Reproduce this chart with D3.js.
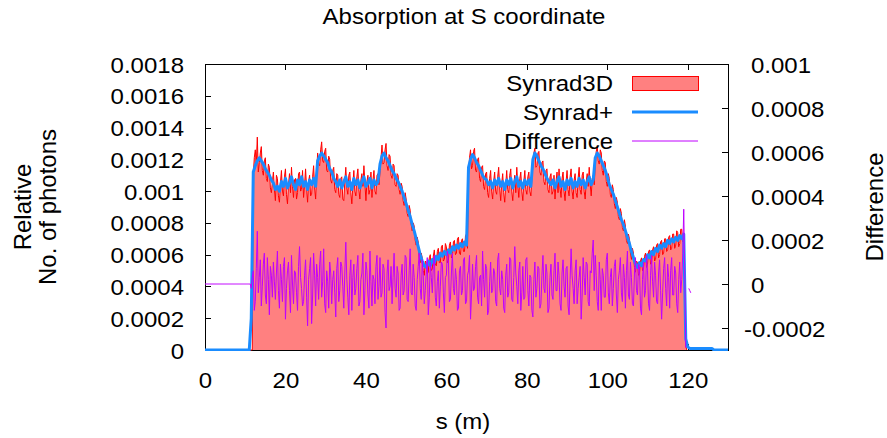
<!DOCTYPE html>
<html><head><meta charset="utf-8">
<script src="https://cdn.jsdelivr.net/npm/d3@7"></script>
<style>
body{margin:0;background:#fff}
text{font-family:"Liberation Sans",Arial,Helvetica,sans-serif;fill:#000}
</style>
</head><body>
<svg id="chart" width="887" height="438"></svg>
<script>
// sampling steps (metres); each array starts at s = 0
const redStep = 0.25;   // Synrad3D
const blueStep = 0.5;   // Synrad+
const diffStep = 0.25;  // Difference
const sMax = 130;

// Synrad3D (relative no. of photons), left axis
const synrad3d = [
0,0,0,0,0,0,0,0,0,0, 0,0,0,0,0,0,0,0,0,0, 0,0,0,0,0,0,0,0,0,0, 0,0,0,0,0,0,0,0,0,0, 0,0,0,0,0,0,
0,0,0.0011,0.00121,0.00126,0.00117,0.00134,0.00112,0.00118,0.00124,0.00128,0.00113,0.0011,0.00119,0.00121,0.00108,0.00106,0.00117,0.00115,0.00102,
0.00099,0.00106,0.00112,0.00101,0.00094,0.0011,0.00108,0.00097,0.00093,0.00105,0.00113,0.001,0.00097,0.00109,0.00114,0.00098,0.00092,0.00104,0.00111,0.00099,
0.00115,0.00103,0.00096,0.00107,0.00108,0.00095,0.00099,0.00111,0.00112,0.001,0.00101,0.00113,0.00096,0.00104,0.00114,0.00102,0.00093,0.00106,0.0011,0.00097,
0.00098,0.00109,0.00116,0.00102,0.00095,0.00112,0.00124,0.00117,0.00116,0.00126,0.00131,0.00119,0.00118,0.00125,0.00127,0.00113,0.00112,0.00122,0.0012,0.00107,
0.00105,0.00113,0.00115,0.00101,0.00099,0.00111,0.0011,0.00098,0.00096,0.00108,0.00109,0.00095,0.00094,0.00106,0.00115,0.00102,0.00098,0.0011,0.00112,0.00099,
0.00092,0.00104,0.00113,0.001,0.00097,0.00109,0.00114,0.00101,0.00095,0.00107,0.00111,0.00103,0.00116,0.00105,0.00094,0.00106,0.0011,0.00098,0.00101,0.00112,
0.00096,0.00107,0.00113,0.001,0.00098,0.0011,0.00111,0.00104,0.00112,0.00121,0.00129,0.00117,0.00118,0.00126,0.0013,0.00116,0.00113,0.00123,0.00122,0.0011,
0.00108,0.00117,0.00116,0.00104,0.00103,0.00111,0.0011,0.00101,0.00098,0.00105,0.00103,0.00094,0.00091,0.00099,0.00095,0.00086,0.00084,0.00091,0.00088,0.00079,
0.00075,0.0008,0.00078,0.00069,0.00066,0.00071,0.00068,0.00058,0.00055,0.00061,0.00058,0.0005,0.00047,0.00056,0.00055,0.00048,0.00049,0.00058,0.0006,0.0005,
0.00051,0.00059,0.00063,0.00054,0.00053,0.00062,0.00064,0.00055,0.00055,0.00065,0.00066,0.00056,0.00057,0.00067,0.00065,0.00055,0.00056,0.00066,0.00068,0.00058,
0.00059,0.00068,0.00069,0.0006,0.00061,0.0007,0.00071,0.00061,0.0006,0.00069,0.0007,0.00062,0.00062,0.00072,0.00073,0.00064,0.0011,0.00121,0.00126,0.00114,
0.00116,0.00125,0.00127,0.00113,0.00112,0.0012,0.00121,0.00108,0.00106,0.00115,0.00116,0.00103,0.00101,0.00111,0.00112,0.00099,0.00096,0.00108,0.00113,0.001,
0.00095,0.00106,0.00112,0.001,0.00098,0.00109,0.00115,0.00102,0.00094,0.00105,0.00111,0.00099,0.00093,0.00104,0.00113,0.00101,0.00099,0.0011,0.00114,0.001,
0.00094,0.00105,0.0011,0.00099,0.00115,0.00104,0.00096,0.00108,0.00112,0.001,0.00094,0.00106,0.00113,0.00101,0.00098,0.00109,0.00112,0.001,0.00097,0.00108,
0.00116,0.00124,0.00127,0.00115,0.00116,0.00124,0.00125,0.00112,0.0011,0.00118,0.00119,0.00106,0.00104,0.00113,0.00114,0.00101,0.00099,0.00109,0.00111,0.00098,
0.001,0.0011,0.00095,0.00106,0.00112,0.00099,0.00114,0.00102,0.00096,0.00108,0.00112,0.001,0.00094,0.00106,0.00113,0.00101,0.00097,0.00109,0.00114,0.001,
0.00095,0.00107,0.00111,0.00099,0.00096,0.00108,0.00115,0.00101,0.00098,0.0011,0.00112,0.001,0.00095,0.00106,0.00111,0.00103,0.00115,0.00104,0.00097,0.00108,
0.0011,0.00104,0.00116,0.00125,0.00128,0.00119,0.00117,0.00126,0.00124,0.00113,0.0011,0.00119,0.00118,0.00106,0.00103,0.00111,0.00108,0.00098,0.00096,0.00104,
0.00101,0.00092,0.00089,0.00096,0.00093,0.00084,0.00082,0.00089,0.00086,0.00077,0.00075,0.00082,0.00078,0.00069,0.00067,0.00073,0.0007,0.00061,0.00057,0.00064,
0.00061,0.00052,0.00049,0.00056,0.00055,0.00047,0.00048,0.00056,0.00058,0.0005,0.00051,0.00059,0.00061,0.00052,0.00054,0.00062,0.00063,0.00054,0.00055,0.00063,
0.00065,0.00056,0.00057,0.00066,0.00067,0.00058,0.0006,0.00068,0.00069,0.0006,0.00061,0.0007,0.0007,0.00062,0.00063,0.00071,0.00072,0.00063,0.00064,0.00073,
0.00073,0.00064,0.00066,0.00075,0.00074,0.00065,0.00067,0.00076,0.00076,0.00068,0.0007,0.0004,0.00003,0
];

// Synrad+ (relative no. of photons), left axis
const synradPlus = [
0,0,0,0,0,0,0,0,0,0, 0,0,0,0,0,0,0,0,0,0, 0,0,0,
0.0002,0.00112,0.00116,0.00119,0.00121,0.00119,0.00117,0.00114,0.00112,0.0011,
0.00107,0.00105,0.00101,0.00103,0.001,0.00106,0.00103,0.00108,0.00102,0.00105,
0.00109,0.00104,0.00101,0.00107,0.00104,0.00109,0.00103,0.00106,0.00101,0.00107,
0.00104,0.00108,0.00103,0.00119,0.00122,0.00124,0.00122,0.0012,0.00118,0.00114,
0.00112,0.00108,0.00106,0.00103,0.00107,0.00102,0.00106,0.00109,0.00103,0.00106,
0.00101,0.00108,0.00104,0.00107,0.00102,0.00106,0.00109,0.00103,0.00105,0.00108,
0.00102,0.00107,0.00104,0.00106,0.00117,0.00122,0.00124,0.00121,0.00119,0.00116,
0.00113,0.00111,0.00108,0.00106,0.00103,0.001,0.00096,0.00092,0.00088,0.00084,
0.00079,0.00075,0.0007,0.00065,0.0006,0.00056,0.00053,0.00052,0.00056,0.00053,
0.00057,0.00055,0.00059,0.00057,0.00061,0.00059,0.00062,0.0006,0.00063,0.00061,
0.00065,0.00063,0.00066,0.00064,0.00067,0.00065,0.00068,0.00066,0.00115,0.0012,
0.00123,0.00121,0.00118,0.00116,0.00113,0.0011,0.00108,0.00107,0.00104,0.00106,
0.00102,0.00107,0.00104,0.00108,0.00103,0.00106,0.00101,0.00107,0.00104,0.00108,
0.00102,0.00106,0.00109,0.00103,0.00106,0.00102,0.00107,0.00104,0.00107,0.00103,
0.0012,0.00124,0.00122,0.00119,0.00116,0.00114,0.00111,0.00108,0.00106,0.00104,
0.00107,0.00102,0.00106,0.00109,0.00103,0.00106,0.00101,0.00107,0.00104,0.00108,
0.00102,0.00106,0.00103,0.00108,0.00104,0.00107,0.00102,0.00106,0.00109,0.00104,
0.00107,0.00121,0.00124,0.00122,0.00119,0.00116,0.00113,0.00109,0.00104,0.00101,
0.00098,0.00094,0.0009,0.00086,0.00082,0.00079,0.00075,0.00071,0.00067,0.00062,
0.00058,0.00054,0.00052,0.00055,0.00053,0.00057,0.00056,0.0006,0.00058,0.00062,
0.0006,0.00064,0.00062,0.00066,0.00064,0.00067,0.00065,0.00069,0.00067,0.0007,
0.00068,0.00071,0.00069,0.00072,0.0007,0.00073,0.00007,0.00002,0.00001,0.00001,
0.00001,0.00001,0.00001,0.00001,0.00001,0.00001,0.00001,0.00001,0.00001,0.00001,
0,0,0,0,0,0,0,0
];

// Difference, right axis (null = no data)
const difference = [
0,0,0,0,0,0,0,0,0,0, 0,0,0,0,0,0,0,0,0,0, 0,0,0,0,0,0,0,0,0,0, 0,0,0,0,0,0,0,0,0,0, 0,0,0,0,0,0,
-0.00002,0.00003,0.00006,-0.00012,-0.00008,0.00007,0.00024,-0.00004,0.00003,0.00011,-0.0001,-0.00001,0.00009,0.00014,-0.00005,-0.00009,0.00012,0.00002,-0.00014,0.00008,
0.00004,-0.00006,0.0001,0.00001,-0.00007,0.00005,0.00015,-0.00003,-0.00011,0.00009,0.00002,-0.00008,0.00008,0.00012,-0.00016,-0.00002,0.00006,0.0001,-0.00003,-0.00013,
0.00013,0,-0.00009,0.00006,0.00005,-0.00004,-0.00012,0.00008,0.00017,0.00003,-0.00002,-0.0001,-0.00008,0.00004,0.00011,-0.00006,-0.00019,0.00002,0.00007,0.00012,
-0.00018,-0.00005,0.00014,0.00004,-0.0001,0.00009,0.00003,-0.00007,0.00009,0.00015,-0.00006,0.00001,0.00016,-0.00009,-0.00013,0.00006,0.00001,-0.00011,0.0001,0.00005,
-0.00009,0.00002,0.00006,-0.00004,-0.00015,0.00007,0.00012,-0.00008,-0.00003,0.0001,0.00008,-0.00001,-0.00011,0.00005,0.00019,0.00002,-0.00006,-0.00014,0.00004,0.00011,
-0.00012,0.00003,0.00009,-0.00005,-0.00002,0.00007,0.00013,-0.0001,-0.00008,0.00002,0.00005,0.00014,-0.00014,-0.00003,0.0001,0.00006,-0.00005,-0.00011,0.00015,0.00001,
-0.0001,0.00004,0.00002,-0.00009,0.00008,0.00013,-0.00007,-0.00001,0.00012,-0.00006,-0.00004,0.00009,0.00007,-0.00013,-0.0002,0.00005,0.00011,-0.00003,-0.00001,0.00008,
-0.00009,0.00003,0.00014,-0.00002,-0.00006,0.00008,0.00005,-0.00012,-0.00011,0.00004,0.00009,-0.00005,-0.00003,0.00013,0.00012,-0.00007,-0.00008,0.00006,0.00016,-0.00004,
-0.00005,0.00009,0.00003,-0.0001,-0.00012,0.00002,0.00008,0.00014,-0.00002,-0.00007,0.00011,0.00004,-0.00009,-0.00003,0.00005,0.00012,-0.00014,-0.00006,0.0001,0.00003,
-0.00004,0.00008,0.00013,-0.00006,-0.0001,0.00001,0.00006,-0.00011,-0.00001,0.0001,0.00009,-0.00004,-0.00013,0.00003,0.00004,0.00015,0.00011,-0.00008,-0.00007,0.00005,
0.00014,-0.00002,-0.00005,0.00007,0.00002,-0.00012,-0.00011,0.00006,0.00008,-0.00005,-0.00003,0.00011,0.00012,-0.00009,-0.00008,0.00004,0.00006,0.00013,-0.00016,-0.00005,
0.00009,-0.00003,-0.00002,0.00008,0.00013,-0.00006,-0.00009,0.00003,0.00004,-0.0001,0.00015,0.00002,-0.00006,0.00009,0.00007,-0.00014,-0.00012,0.00001,0.0001,-0.00004,
-0.00003,0.00007,0.00005,-0.00008,-0.0001,0.00011,0.00014,-0.00002,-0.00005,0.00006,0.00002,-0.00011,-0.00013,0.00004,0.00009,-0.00006,-0.00004,0.00012,0.00011,-0.00007,
-0.00008,0.00003,0.00017,0.00005,-0.00001,-0.00009,0.00006,0.0001,-0.00012,-0.00004,0.00008,-0.00007,-0.00006,0.00011,0.00012,-0.00003,-0.0001,0.00004,0.00003,-0.00012,
-0.00015,0.00002,0.0001,-0.00006,-0.00002,0.00008,0.00007,-0.00011,-0.00009,0.00004,0.00013,-0.00002,-0.00004,0.00009,0.00005,-0.00013,-0.00011,0.00003,0.00009,-0.00005,
-0.00007,0.00006,0.00014,-0.00003,-0.00003,0.0001,0.00004,-0.00009,-0.00012,0.00005,0.00011,-0.00001,-0.00006,0.00007,0.00008,-0.0001,-0.00014,0.00002,0.00016,0.00004,
-0.00002,-0.00009,0.00006,0.00011,-0.00009,-0.00002,0.00003,0.00008,-0.00016,-0.00005,0.00012,0.00003,-0.00005,0.0001,0.00009,-0.00008,-0.0001,0.00006,0.00005,0.00014,
0.0002,-0.00003,0.00013,0.00004,-0.00008,-0.00012,0.0001,0.00002,-0.00012,0.00007,0.00004,-0.00006,-0.00006,0.00011,0.00014,-0.00004,-0.00009,0.00003,0.00007,-0.0001,
-0.00002,0.00008,0.00011,-0.00005,-0.00013,0.00002,0.00006,0.00012,-0.00004,-0.00008,0.00009,0.00003,-0.00011,0.00006,0.00015,-0.00005,-0.00007,0.0001,0.00003,-0.00009,
-0.0001,0.00005,0.00012,-0.00003,-0.00005,0.00009,0.00008,-0.00011,-0.00014,0.00002,0.0001,-0.00006,-0.00003,0.00013,0.00006,-0.00009,-0.00012,0.00004,0.00013,0.00001,
-0.00006,0.0001,0.00004,-0.00008,-0.00009,0.00005,0.00011,-0.00003,-0.00016,-0.00004,0.00007,0.00012,-0.00002,-0.0001,0.00009,0.00003,-0.00011,0.00006,0.00012,-0.00005,
-0.00005,0.00008,0.00005,-0.00009,-0.00013,0.00002,0.0001,-0.00004,0.00002,0.00014,0.00034,0.00005,-0.00029,null,null,-0.00002,-0.00003,-0.00004
];

const seriesNames = ["Synrad3D", "Synrad+", "Difference"];
const xTicks = [0, 20, 40, 60, 80, 100, 120];
const xTickLabels = ["0", "20", "40", "60", "80", "100", "120"];
const yTicks = [0, 0.0002, 0.0004, 0.0006, 0.0008, 0.001, 0.0012, 0.0014, 0.0016, 0.0018];
const yTickLabels = ["0", "0.0002", "0.0004", "0.0006", "0.0008", "0.001", "0.0012", "0.0014", "0.0016", "0.0018"];
const y2Ticks = [-0.0002, 0, 0.0002, 0.0004, 0.0006, 0.0008, 0.001];
const y2TickLabels = ["-0.0002", "0", "0.0002", "0.0004", "0.0006", "0.0008", "0.001"];
const titleText = "Absorption at S coordinate";
const xLabel = "s (m)";
const yLabelLines = ["Relative", "No. of photons"];
const y2Label = "Difference";

// ---------- layout ----------
const W = 887, H = 438;
const L = 205, R = 728, T = 64, B = 350;
const FS = 24;      // font size
const SY = 0.9;     // vertical squash of horizontal text
const C_FILL = "#ff8080", C_RED = "#ff0000", C_BLUE = "#1a8cff", C_PURPLE = "#c000ff";

const svg = d3.select("#chart");
svg.append("rect").attr("width", W).attr("height", H).attr("fill", "#fff");

const x = d3.scaleLinear().domain([0, sMax]).range([L, R]);
const y = d3.scaleLinear().domain([0, 0.0018]).range([B, T]);
const y2 = d3.scaleLinear().domain([-0.0003, 0.001]).range([B, T]);

function styleText(sel, dx, dy) {
  sel.attr("x", 0).attr("y", 0).attr("dy", null)
     .attr("font-size", FS)
     .attr("transform", (d) => `translate(${typeof dx === "function" ? dx(d) : dx},${dy}) scale(1,${SY})`);
}
function cleanAxis(g) {
  g.attr("font-size", null).attr("font-family", null);
  g.select(".domain").remove();
  g.selectAll(".tick line").attr("stroke", "#000").attr("shape-rendering", "crispEdges");
}

// left axis
const gy = svg.append("g").attr("transform", `translate(${L},0)`)
  .call(d3.axisLeft(y).tickValues(yTicks).tickFormat((d, i) => yTickLabels[i])
        .tickSizeInner(-6).tickSizeOuter(0).tickPadding(21));
cleanAxis(gy);
styleText(gy.selectAll(".tick text"), -21, 8);

// right axis
const gy2 = svg.append("g").attr("transform", `translate(${R},0)`)
  .call(d3.axisRight(y2).tickValues(y2Ticks).tickFormat((d, i) => y2TickLabels[i])
        .tickSizeInner(-6).tickSizeOuter(0).tickPadding(23));
cleanAxis(gy2);
styleText(gy2.selectAll(".tick text"), (d) => d < 0 ? 16 : 23, 8);

// bottom axis
const gx = svg.append("g").attr("transform", `translate(0,${B})`)
  .call(d3.axisBottom(x).tickValues(xTicks).tickFormat((d, i) => xTickLabels[i])
        .tickSizeInner(-6).tickSizeOuter(0).tickPadding(10));
cleanAxis(gx);
styleText(gx.selectAll(".tick text"), 0, 38);

// top mirror ticks
const gxt = svg.append("g").attr("transform", `translate(0,${T})`)
  .call(d3.axisTop(x).tickValues(xTicks).tickFormat("").tickSizeInner(-6).tickSizeOuter(0));
cleanAxis(gxt);

// frame
svg.append("rect").attr("x", L + 0.5).attr("y", T + 0.5).attr("width", R - L).attr("height", B - T)
  .attr("fill", "none").attr("stroke", "#000").attr("stroke-width", 1);

// data
svg.append("clipPath").attr("id", "plotclip").append("rect")
  .attr("x", L).attr("y", T).attr("width", R - L + 1).attr("height", B - T + 1);
const plot = svg.append("g").attr("clip-path", "url(#plotclip)");

plot.append("path").datum(synrad3d)
  .attr("d", d3.area().x((d, i) => x(i * redStep)).y0(y(0)).y1(d => y(d)))
  .attr("fill", C_FILL);
plot.append("path").datum(synrad3d)
  .attr("d", d3.line().x((d, i) => x(i * redStep)).y(d => y(d)))
  .attr("fill", "none").attr("stroke", C_RED).attr("stroke-width", 1);
plot.append("path").datum(synradPlus)
  .attr("d", d3.line().x((d, i) => x(i * blueStep)).y(d => y(d)))
  .attr("fill", "none").attr("stroke", C_BLUE).attr("stroke-width", 3).attr("stroke-linejoin", "round");
plot.append("path").datum(difference)
  .attr("d", d3.line().defined(d => d !== null).x((d, i) => x(i * diffStep)).y(d => y2(d)))
  .attr("fill", "none").attr("stroke", C_PURPLE).attr("stroke-width", 1);

// legend
const legX1 = 632, legX2 = 698, legTextX = 613;
const legRows = [83, 112, 141];
const lg = svg.append("g");
seriesNames.forEach((name, i) => {
  lg.append("text").text(name).attr("text-anchor", "end")
    .attr("font-size", FS)
    .attr("transform", `translate(${legTextX},${legRows[i] + 8}) scale(1,${SY})`);
});
lg.append("rect").attr("x", legX1 + 0.5).attr("y", legRows[0] - 7 + 0.5).attr("width", legX2 - legX1).attr("height", 14)
  .attr("fill", C_FILL).attr("stroke", C_RED).attr("stroke-width", 1);
lg.append("line").attr("x1", legX1).attr("x2", legX2).attr("y1", legRows[1]).attr("y2", legRows[1])
  .attr("stroke", C_BLUE).attr("stroke-width", 3);
lg.append("line").attr("x1", legX1).attr("x2", legX2).attr("y1", legRows[2]).attr("y2", legRows[2])
  .attr("stroke", C_PURPLE).attr("stroke-width", 1);

// titles
svg.append("text").text(titleText).attr("text-anchor", "middle").attr("font-size", FS)
  .attr("transform", `translate(464,24) scale(1,${SY})`);
svg.append("text").text(xLabel).attr("text-anchor", "middle").attr("font-size", FS)
  .attr("transform", `translate(463,429) scale(1,${SY})`);
svg.append("text").text(yLabelLines[0]).attr("text-anchor", "middle").attr("font-size", FS)
  .attr("transform", `translate(31,207) rotate(-90)`);
svg.append("text").text(yLabelLines[1]).attr("text-anchor", "middle").attr("font-size", FS)
  .attr("transform", `translate(56,207) rotate(-90)`);
svg.append("text").text(y2Label).attr("text-anchor", "middle").attr("font-size", FS)
  .attr("transform", `translate(883,207) rotate(-90)`);

console.log("lengths", synrad3d.length, synradPlus.length, difference.length);
</script>
</body></html>
